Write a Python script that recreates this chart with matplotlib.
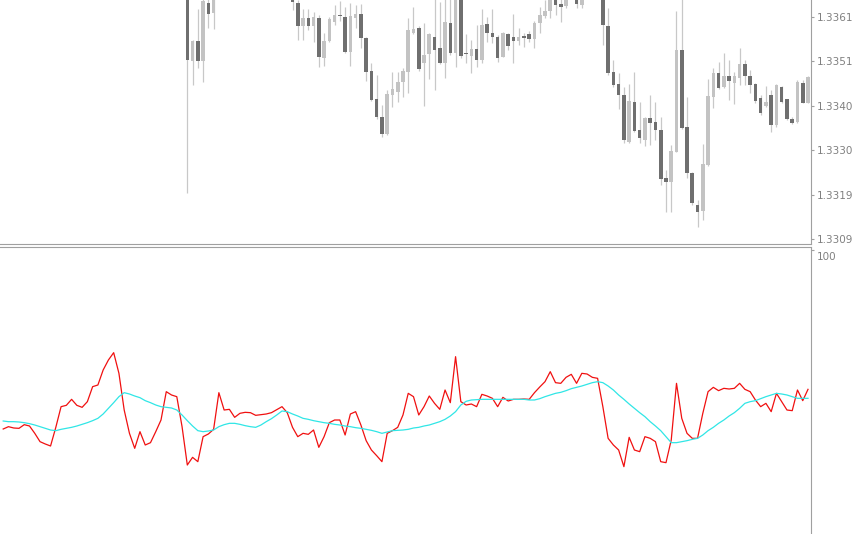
import numpy as np
import matplotlib
matplotlib.use('Agg')
import matplotlib.pyplot as plt

# candles that are inside the visible price range (the rest sit above the window)
bar_idx = list(range(35, 41)) + list(range(55, 108)) + [109, 110] + list(range(114, 154))

# prices in points: price = 1.33 + pts / 1e5
open_pts = [701, 511, 558, 511, 647, 624,
            661, 647, 593, 612, 593, 612, 518, 558, 602, 619, 614, 532, 612, 621, 565, 488, 422, 380, 340, 432,
            439, 462, 485, 577, 588, 506, 528, 567, 542, 506, 600, 530, 673, 530, 523, 539, 513, 598, 577, 567,
            521, 574, 567, 558, 567, 574, 563, 600, 617, 628, 661, 645, 640,
            654, 642,
            666, 593, 485, 457, 432, 321, 415, 350, 326, 378, 368, 350, 237, 228, 298, 537, 357, 249, 174, 160,
            268, 427, 483, 450, 476, 460, 471, 504, 476, 457, 424, 406, 432, 361, 450, 422, 375, 368, 460, 413]
high_pts = [724, 560, 633, 666, 659, 677,
            673, 654, 633, 633, 626, 619, 577, 614, 642, 652, 638, 647, 642, 645, 567, 506, 478, 408, 443, 485,
            485, 495, 612, 638, 593, 600, 577, 659, 649, 661, 661, 689, 689, 574, 560, 595, 633, 614, 633, 572,
            579, 577, 621, 588, 577, 581, 605, 638, 654, 673, 673, 663, 668,
            666, 666,
            677, 635, 513, 483, 450, 457, 485, 415, 380, 432, 415, 380, 256, 314, 628, 666, 427, 251, 186, 317,
            469, 495, 509, 530, 513, 485, 542, 513, 490, 460, 432, 453, 443, 457, 453, 422, 380, 467, 467, 476]
low_pts = [202, 455, 495, 462, 588, 586,
           631, 560, 560, 584, 556, 497, 499, 556, 595, 605, 530, 499, 588, 542, 464, 417, 375, 333, 338, 403,
           415, 427, 436, 574, 488, 406, 469, 443, 504, 471, 525, 497, 518, 506, 483, 497, 506, 556, 553, 509,
           521, 537, 506, 549, 544, 556, 542, 577, 612, 612, 619, 602, 635,
           635, 635,
           549, 478, 450, 399, 319, 319, 345, 319, 312, 314, 326, 221, 158, 158, 298, 352, 237, 174, 122, 139,
           265, 401, 446, 448, 420, 410, 455, 455, 436, 413, 385, 403, 345, 357, 413, 373, 364, 366, 413, 413]
close_pts = [513, 558, 511, 652, 621, 666,
             649, 593, 612, 593, 614, 521, 558, 609, 619, 617, 532, 617, 621, 565, 485, 420, 380, 340, 434, 446,
             462, 488, 584, 586, 492, 525, 574, 537, 506, 602, 530, 666, 523, 528, 539, 513, 595, 577, 567, 518,
             577, 546, 558, 567, 566, 563, 600, 619, 628, 659, 642, 638, 659,
             645, 656,
             595, 483, 455, 432, 326, 417, 347, 331, 378, 366, 350, 235, 228, 300, 537, 354, 249, 179, 158, 270,
             429, 483, 448, 476, 464, 476, 504, 476, 455, 417, 389, 415, 361, 455, 415, 375, 366, 462, 413, 474]

# oscillator (0-100) and its signal line, one value per candle 0..153
osc = [46.2, 46.9, 46.5, 46.4, 47.5, 47.1, 44.9, 42.4, 41.7, 41.1, 46.7, 52.9, 53.3, 55.1, 53.3, 52.7, 54.4,
       58.9, 59.4, 63.9, 66.9, 69.1, 62.9, 51.9, 44.9, 40.4, 45.4, 41.4, 42.1, 45.4, 48.9, 57.4, 56.4, 55.9,
       46.9, 35.4, 37.7, 36.4, 43.9, 44.7, 46.1, 57.1, 51.9, 52.1, 49.7, 50.9, 51.2, 51.1, 50.3, 50.5, 50.7,
       51.1, 52.0, 52.9, 51.1, 46.7, 43.9, 44.9, 44.6, 45.9, 40.7, 43.9, 48.1, 48.9, 48.9, 44.4, 50.7, 51.4,
       47.4, 42.7, 39.9, 38.2, 36.4, 44.9, 45.7, 46.7, 50.4, 56.9, 55.9, 50.4, 52.9, 56.1, 53.9, 52.1, 57.9,
       54.1, 67.9, 54.4, 53.4, 53.7, 52.9, 56.6, 56.1, 55.4, 52.9, 55.7, 54.6, 55.1, 55.1, 55.2, 55.1, 57.1,
       58.8, 60.4, 63.4, 60.1, 59.9, 61.7, 62.6, 59.9, 62.9, 62.7, 61.7, 61.4, 52.9, 43.4, 41.4, 39.9, 34.9,
       43.7, 39.9, 39.4, 43.9, 43.4, 42.4, 36.4, 36.1, 42.9, 59.9, 49.4, 44.9, 43.4, 43.4, 50.9, 57.4, 58.7,
       57.7, 58.4, 58.2, 58.4, 59.9, 58.1, 57.4, 54.9, 52.9, 53.9, 51.4, 56.9, 54.4, 51.9, 51.7, 57.9, 54.7,
       58.1]
signal = [48.6, 48.4, 48.4, 48.3, 48.1, 47.8, 47.4, 46.9, 46.4, 45.9, 45.7, 46.1, 46.4, 46.7, 47.1, 47.6,
          48.1, 48.7, 49.4, 50.7, 52.4, 54.1, 55.9, 57.1, 56.7, 56.1, 55.6, 54.7, 54.1, 53.4, 52.9, 52.7, 52.5,
          51.9, 50.4, 48.7, 47.1, 45.7, 45.4, 45.6, 45.9, 46.9, 47.5, 47.9, 47.9, 47.6, 47.2, 46.9, 46.7, 47.4,
          48.4, 49.3, 50.4, 51.6, 51.4, 50.7, 50.1, 49.4, 49.1, 48.7, 48.4, 48.1, 47.9, 47.6, 47.4, 47.1, 46.9,
          46.6, 46.4, 46.1, 45.8, 45.4, 44.9, 45.3, 45.7, 45.8, 45.9, 46.1, 46.5, 46.7, 47.1, 47.4, 47.9, 48.4,
          49.1, 50.1, 51.4, 53.4, 54.5, 54.9, 55.0, 55.1, 55.1, 55.1, 55.1, 55.1, 55.1, 55.1, 55.1, 55.1, 54.9,
          54.9, 55.3, 55.9, 56.4, 56.9, 57.2, 57.7, 58.3, 58.7, 59.1, 59.6, 60.1, 60.4, 60.1, 59.1, 57.9, 56.4,
          55.1, 53.7, 52.4, 51.1, 49.9, 48.4, 47.1, 45.7, 43.9, 42.1, 42.1, 42.4, 42.7, 43.1, 43.4, 44.4, 45.7,
          46.7, 47.9, 48.9, 50.1, 51.1, 52.4, 53.9, 54.4, 54.7, 55.3, 55.9, 56.4, 56.9, 56.7, 56.4, 55.9, 55.4,
          55.4, 55.4]

price_ticks = [1.33094, 1.33198, 1.33302, 1.33406, 1.33510, 1.33614]
price_labels = ['1.3309', '1.3319', '1.3330', '1.3340', '1.3351', '1.3361']

x = np.array(bar_idx)
o = 1.33 + np.array(open_pts) / 1e5
h = 1.33 + np.array(high_pts) / 1e5
l = 1.33 + np.array(low_pts) / 1e5
c = 1.33 + np.array(close_pts) / 1e5

frame = '#a0a0a0'
txt = '#808080'
dark = '#6f6f6f'
light = '#c3c3c3'

fig = plt.figure(figsize=(8.55, 5.34), dpi=100, facecolor='white')
ax = fig.add_axes([0, 1 - 244 / 534, 811 / 855, 244 / 534])
ax2 = fig.add_axes([0, 0, 811 / 855, 1 - 247 / 534])

xlim = (-0.61, 153.57)

# candles
ax.vlines(x, l, h, color='#c8c8c8', lw=0.9, zorder=1)
up = c >= o
body = np.maximum(np.abs(c - o), 0.00003)
bottom = np.minimum(o, c)
ax.bar(x[up], body[up], bottom=bottom[up], width=0.68, color=light, lw=0, zorder=2)
ax.bar(x[~up], body[~up], bottom=bottom[~up], width=0.68, color=dark, lw=0, zorder=2)

ax.set_xlim(*xlim)
ax.set_ylim(1.330826, 1.33654)
ax.set_xticks([])
ax.yaxis.tick_right()
ax.set_yticks(price_ticks)
ax.set_yticklabels(price_labels)
ax.tick_params(axis='y', length=2.5, width=0.8, color=frame, pad=2, labelsize=7.5, labelcolor=txt)
for s in ['top', 'left']:
    ax.spines[s].set_visible(False)
for s in ['bottom', 'right']:
    ax.spines[s].set_color(frame)
    ax.spines[s].set_linewidth(0.8)

# oscillator panel
idx = np.arange(len(osc))
ax2.plot(idx, osc, color='#f01010', lw=0.9, zorder=2)
ax2.plot(idx, signal, color='#30e6e6', lw=0.9, zorder=3)
ax2.set_xlim(*xlim)
ax2.set_ylim(14.7, 100.8)
ax2.set_xticks([])
ax2.yaxis.tick_right()
ax2.set_yticks([100])
ax2.set_yticklabels([''])
ax2.tick_params(axis='y', length=2.5, width=0.8, color=frame)
ax2.annotate('100', xy=(1, 100), xycoords=('axes fraction', 'data'), xytext=(4, -1.5),
             textcoords='offset points', va='top', ha='left', fontsize=7.5, color=txt)
for s in ['bottom', 'left']:
    ax2.spines[s].set_visible(False)
for s in ['top', 'right']:
    ax2.spines[s].set_color(frame)
    ax2.spines[s].set_linewidth(0.8)

fig.savefig('out.png', dpi=100, facecolor='white')
